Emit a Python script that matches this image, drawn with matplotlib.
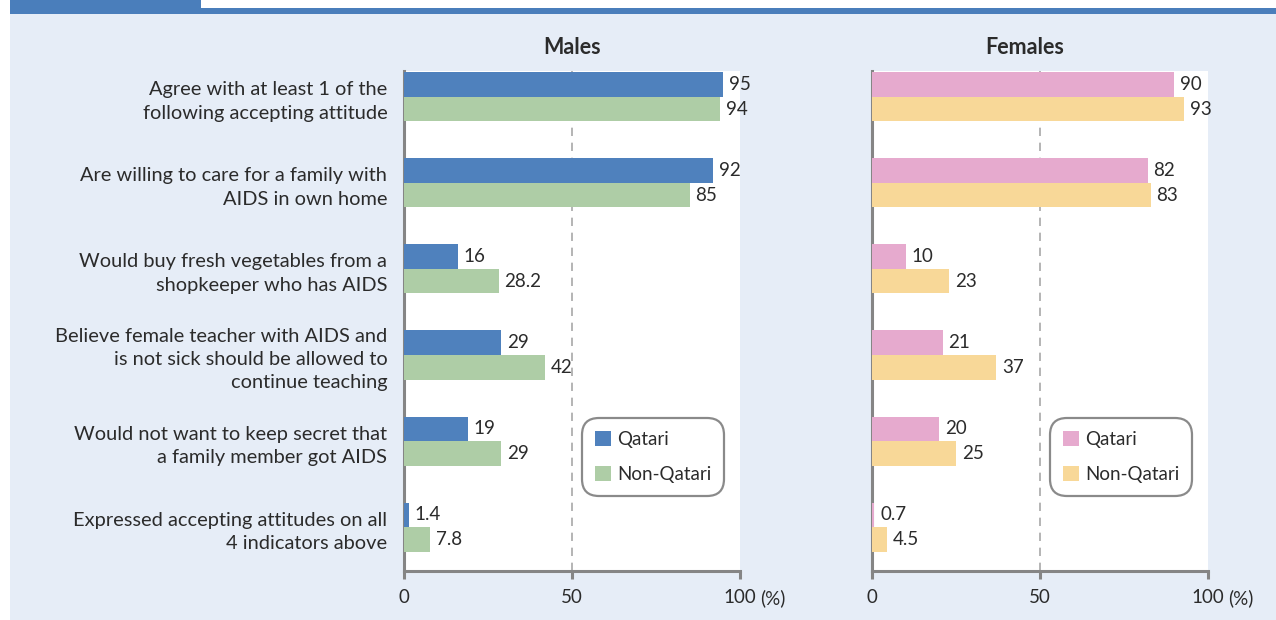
import matplotlib
matplotlib.use("Agg")
import matplotlib.pyplot as plt
import matplotlib.transforms as mtransforms
from matplotlib.patches import Rectangle
import numpy as np

plt.rcParams['font.family'] = ['Lato', 'DejaVu Sans']

categories = [
    "Agree with at least 1 of the\nfollowing accepting attitude",
    "Are willing to care for a family with\nAIDS in own home",
    "Would buy fresh vegetables from a\nshopkeeper who has AIDS",
    "Believe female teacher with AIDS and\nis not sick should be allowed to\ncontinue teaching",
    "Would not want to keep secret that\na family member got AIDS",
    "Expressed accepting attitudes on all\n4 indicators above",
]
males_qatari = [95, 92, 16, 29, 19, 1.4]
males_nonqatari = [94, 85, 28.2, 42, 29, 7.8]
females_qatari = [90, 82, 10, 21, 20, 0.7]
females_nonqatari = [93, 83, 23, 37, 25, 4.5]
series_labels = ["Qatari", "Non-Qatari"]
xticks = [0, 50, 100]

W, H = 1276, 620
fig = plt.figure(figsize=(W / 100, H / 100), dpi=100)
fig.patch.set_facecolor("white")

def px(x0, y0, w, h):
    return [x0 / W, 1 - (y0 + h) / H, w / W, h / H]

# page background and header band
bg = fig.add_axes([0, 0, 1, 1], zorder=-10)
bg.set_xlim(0, W)
bg.set_ylim(H, 0)
bg.axis("off")
bg.add_patch(Rectangle((10, 14), W - 10, H - 14, color="#E6EDF7", lw=0))
bg.add_patch(Rectangle((10, 0), 191, 14, color="#4A7EBB", lw=0))
bg.add_patch(Rectangle((201, 8), W - 201, 6, color="#4A7EBB", lw=0))

spine_col = "#858585"
text_col = "#2B2B2B"
y = np.arange(len(categories))
bh = 0.285
tick_len, tick_pad = 5.8, 7.5

def panel(x0, q, nq, cq, cnq, title, title_x, show_labels):
    ax = fig.add_axes(px(x0, 71, 336, 500))
    ax.set_facecolor("white")
    ax.barh(y - bh / 2, q, height=bh, color=cq, label=series_labels[0], zorder=3)
    ax.barh(y + bh / 2, nq, height=bh, color=cnq, label=series_labels[1], zorder=3)
    for yi, v in zip(y, q):
        ax.text(v + 1.7, yi - bh / 2, f"{v:g}", va="center", ha="left",
                fontsize=13.5, color=text_col, zorder=4)
    for yi, v in zip(y, nq):
        ax.text(v + 1.7, yi + bh / 2, f"{v:g}", va="center", ha="left",
                fontsize=13.5, color=text_col, zorder=4)
    ax.set_xlim(0, 100)
    ax.set_ylim(5.51, -0.30)
    ax.axvline(50, color="#A8A8A8", lw=1.2, ls=(0, (5, 4)), zorder=1)
    for s in ["top", "right"]:
        ax.spines[s].set_visible(False)
    for s in ["left", "bottom"]:
        ax.spines[s].set_color(spine_col)
        ax.spines[s].set_linewidth(2.2)
    ax.set_xticks(xticks)
    ax.set_xticklabels([str(t) for t in xticks])
    ax.tick_params(axis="x", length=tick_len, width=2.2, color=spine_col,
                   labelsize=13.5, labelcolor=text_col, pad=tick_pad)
    unit_tr = mtransforms.offset_copy(ax.get_xaxis_transform(), fig=fig,
                                      y=-(tick_len + tick_pad), units="points")
    ax.text(106, 0, "(%)", transform=unit_tr,
            ha="left", va="top", fontsize=13.5, color=text_col)
    if show_labels:
        ax.set_yticks(y)
        ax.set_yticklabels(categories, fontsize=14.4, color=text_col,
                           linespacing=1.45)
        ax.tick_params(axis="y", length=0, pad=12)
    else:
        ax.set_yticks([])
    leg = ax.legend(loc="upper left", bbox_to_anchor=(0.53, 0.306),
                    fontsize=13.5, frameon=True, fancybox=True,
                    handlelength=0.85, handleheight=0.85, handletextpad=0.3,
                    labelspacing=0.95, borderpad=0.7, borderaxespad=0)
    fr = leg.get_frame()
    fr.set_edgecolor("#8A8A8A")
    fr.set_linewidth(1.6)
    fr.set_facecolor("white")
    fr.set_alpha(1)
    fr.set_boxstyle("round,pad=0,rounding_size=0.9")
    for t in leg.get_texts():
        t.set_color(text_col)
    fig.text(title_x / W, 1 - 48 / H, title, ha="center", va="center",
             fontsize=15.5, fontweight="bold", color=text_col)
    return ax

panel(404, males_qatari, males_nonqatari, "#4F81BD", "#AECDA6",
      "Males", 572, True)
panel(872, females_qatari, females_nonqatari, "#E6AACE", "#F8D898",
      "Females", 1025, False)

fig.savefig("out.png", dpi=100, facecolor=fig.get_facecolor())
